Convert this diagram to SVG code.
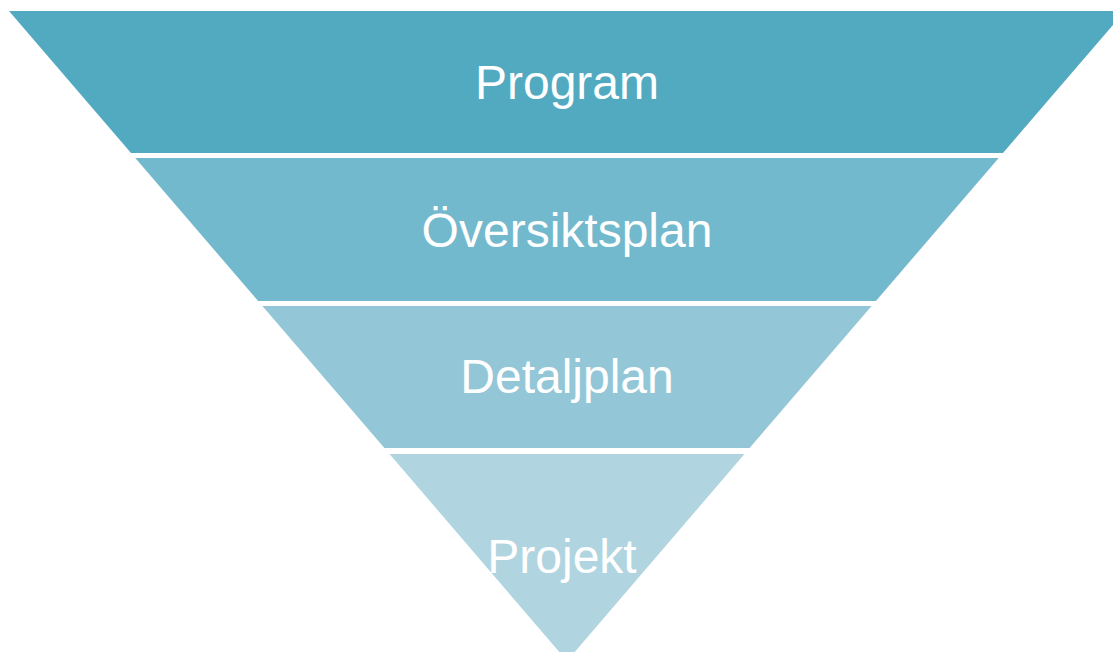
<svg xmlns="http://www.w3.org/2000/svg" width="1113" height="652" viewBox="0 0 1113 652">
<style>
.lbl{font-family:"Liberation Sans",Arial,sans-serif;font-size:48px;fill:#ffffff;text-anchor:middle}
</style>
<rect width="1113" height="652" fill="#ffffff"/>
<g id="band-program">
<polygon points="9,11 1125,11 1003,153 131,153" fill="#52aac1"/>
<text class="lbl" x="567" y="99">Program</text>
</g>
<g id="band-oversiktsplan">
<polygon points="135.3,158 998.7,158 875.9,301 258.1,301" fill="#72b9cd"/>
<text class="lbl" x="567" y="247">Översiktsplan</text>
</g>
<g id="band-detaljplan">
<polygon points="262.4,306 871.6,306 749.6,448 384.4,448" fill="#93c7d7"/>
<text class="lbl" x="567" y="393">Detaljplan</text>
</g>
<g id="band-projekt">
<polygon points="389.5,454 744.5,454 567,661" fill="#b0d5e0"/>
<text class="lbl" x="562" y="573">Projekt</text>
</g>
<g id="connectors"/>
</svg>
